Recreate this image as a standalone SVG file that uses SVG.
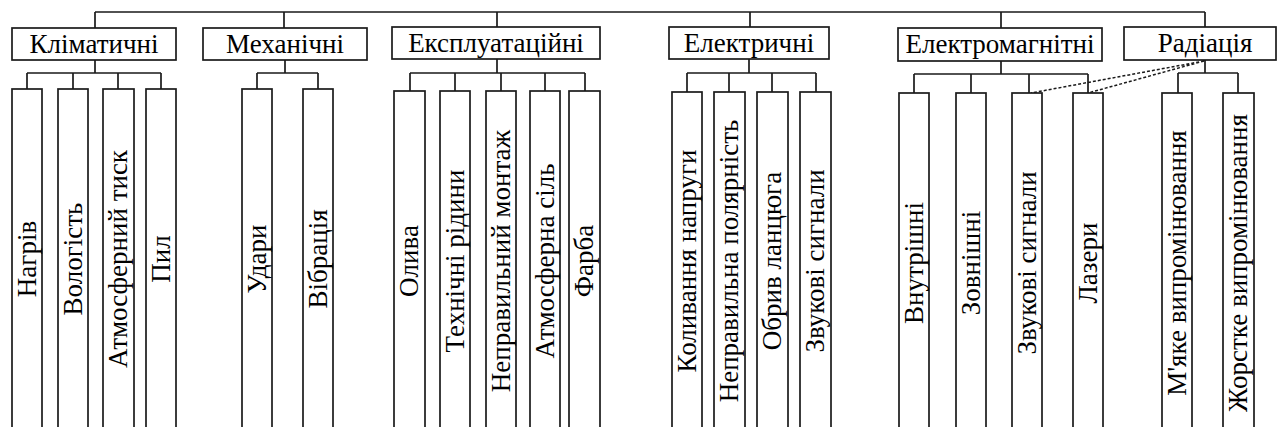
<svg xmlns="http://www.w3.org/2000/svg" width="1279" height="427" viewBox="0 0 1279 427">
<style>
rect{fill:#fff;stroke:#1a1a1a;stroke-width:1.7}
.c path{fill:none;stroke:#1a1a1a;stroke-width:1.7}
.c .d{stroke-dasharray:3 2;stroke-width:1.5}
text{font-family:"Liberation Serif","Times New Roman",serif;font-size:27px;fill:#000;text-anchor:middle}
</style>
<rect x="0" y="0" width="1279" height="427" style="stroke:none"/>
<g class="c" id="connectors">
<path d="M95,12H1205M95,12V28M284,12V28M497,12V28M750,12V28M1001,12V28M1205,12V27"/>
<path d="M95,60V73M27,73H161M27,73V89M73,73V89M118,73V89M161,73V89"/>
<path d="M285,60V73M257,73H318M257,73V89M318,73V89"/>
<path d="M497,59V73M410,73H585M410,73V91M455,73V91M501,73V91M545,73V91M585,73V91"/>
<path d="M749,59V73M687,73H816M687,73V92M729,73V92M772,73V92M816,73V92"/>
<path d="M1001,61V74M914,74H1088M914,74V93M971,74V93M1029,74V93M1088,74V93"/>
<path d="M1205,60V73M1178,73H1238M1178,73V93M1238,73V93"/>
<path class="d" d="M1204,61L1031,93M1204,61L1088,93"/>
</g>
<g id="klim"><rect x="12" y="28" width="164" height="32"/><text x="94" y="53">Кліматичні</text></g>
<g id="mech"><rect x="203" y="28" width="164" height="32"/><text x="285" y="53">Механічні</text></g>
<g id="expl"><rect x="392" y="27" width="208" height="32"/><text x="496" y="52">Експлуатаційні</text></g>
<g id="elec"><rect x="669" y="27" width="160" height="32"/><text x="749" y="52">Електричні</text></g>
<g id="em"><rect x="898" y="28" width="204" height="33"/><text x="1000" y="53">Електромагнітні</text></g>
<g id="rad"><rect x="1124" y="27" width="152" height="33"/><text x="1205" y="52">Радіація</text></g>

<g id="k1"><rect x="12" y="89" width="30" height="345"/><text transform="translate(36,259) rotate(-90)">Нагрів</text></g>
<g id="k2"><rect x="58" y="89" width="30" height="345"/><text transform="translate(82,259) rotate(-90)">Вологість</text></g>
<g id="k3"><rect x="103" y="89" width="31" height="345"/><text transform="translate(127,259) rotate(-90)">Атмосферний тиск</text></g>
<g id="k4"><rect x="146" y="89" width="30" height="345"/><text transform="translate(170,259) rotate(-90)">Пил</text></g>

<g id="m1"><rect x="242" y="89" width="30" height="345"/><text transform="translate(266,259) rotate(-90)">Удари</text></g>
<g id="m2"><rect x="303" y="89" width="30" height="345"/><text transform="translate(327,259) rotate(-90)">Вібрація</text></g>

<g id="e1"><rect x="394" y="91" width="31" height="345"/><text transform="translate(418,261) rotate(-90)">Олива</text></g>
<g id="e2"><rect x="440" y="91" width="30" height="345"/><text transform="translate(464,261) rotate(-90)">Технічні рідини</text></g>
<g id="e3"><rect x="486" y="91" width="30" height="345"/><text transform="translate(510,261) rotate(-90)">Неправильний монтаж</text></g>
<g id="e4"><rect x="530" y="91" width="30" height="345"/><text transform="translate(554,261) rotate(-90)">Атмосферна сіль</text></g>
<g id="e5"><rect x="569" y="91" width="31" height="345"/><text transform="translate(593,261) rotate(-90)">Фарба</text></g>

<g id="el1"><rect x="672" y="92" width="30" height="345"/><text transform="translate(696,261) rotate(-90)">Коливання напруги</text></g>
<g id="el2"><rect x="714" y="92" width="31" height="345"/><text transform="translate(738,261) rotate(-90)">Неправильна полярність</text></g>
<g id="el3"><rect x="757" y="92" width="31" height="345"/><text transform="translate(781,261) rotate(-90)">Обрив ланцюга</text></g>
<g id="el4"><rect x="800" y="92" width="31" height="345"/><text transform="translate(824,261) rotate(-90)">Звукові сигнали</text></g>

<g id="em1"><rect x="899" y="93" width="30" height="345"/><text transform="translate(923,263) rotate(-90)">Внутрішні</text></g>
<g id="em2"><rect x="956" y="93" width="30" height="345"/><text transform="translate(980,263) rotate(-90)">Зовнішні</text></g>
<g id="em3"><rect x="1012" y="93" width="30" height="345"/><text transform="translate(1036,263) rotate(-90)">Звукові сигнали</text></g>
<g id="em4"><rect x="1073" y="93" width="30" height="345"/><text transform="translate(1097,263) rotate(-90)">Лазери</text></g>

<g id="r1"><rect x="1162" y="93" width="30" height="345"/><text transform="translate(1186,263) rotate(-90)">М'яке випромінювання</text></g>
<g id="r2"><rect x="1223" y="93" width="31" height="345"/><text transform="translate(1247,263) rotate(-90)">Жорстке випромінювання</text></g>
</svg>
